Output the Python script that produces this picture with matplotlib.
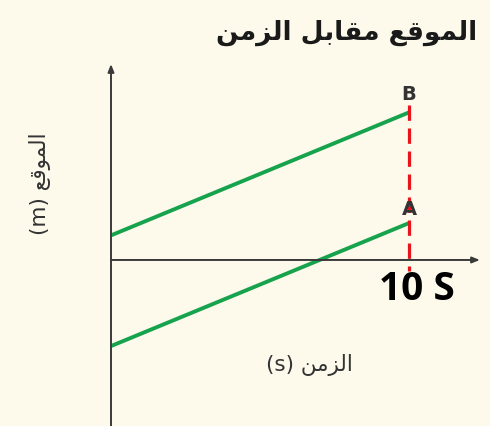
import matplotlib
matplotlib.use("Agg")
import matplotlib.pyplot as plt

# time (s) and position values of the two runners
time_s = [0, 10]
pos_a = [-7, 3]
pos_b = [2, 12]
t_mark = 10

title_ar = "الموقع مقابل الزمن"
ylabel_ar = "الموقع"
xlabel_ar = "الزمن"

# --- minimal Arabic shaping (matplotlib has no shaper / bidi) ---
FORMS = {  # isolated, final, initial, medial
    "ا": ("\uFE8D", "\uFE8E", None, None),
    "و": ("\uFEED", "\uFEEE", None, None),
    "ز": ("\uFEAF", "\uFEB0", None, None),
    "ل": ("\uFEDD", "\uFEDE", "\uFEDF", "\uFEE0"),
    "م": ("\uFEE1", "\uFEE2", "\uFEE3", "\uFEE4"),
    "ق": ("\uFED5", "\uFED6", "\uFED7", "\uFED8"),
    "ع": ("\uFEC9", "\uFECA", "\uFECB", "\uFECC"),
    "ب": ("\uFE8F", "\uFE90", "\uFE91", "\uFE92"),
    "ن": ("\uFEE5", "\uFEE6", "\uFEE7", "\uFEE8"),
}


def shape(text):
    out = []
    for i, ch in enumerate(text):
        if ch not in FORMS:
            out.append(ch)
            continue
        prev = text[i - 1] if i > 0 else ""
        nxt = text[i + 1] if i + 1 < len(text) else ""
        dual = FORMS[ch][2] is not None
        j_prev = prev in FORMS and FORMS[prev][2] is not None
        j_next = dual and nxt in FORMS
        if j_prev and j_next:
            out.append(FORMS[ch][3])
        elif j_prev:
            out.append(FORMS[ch][1])
        elif j_next:
            out.append(FORMS[ch][2])
        else:
            out.append(FORMS[ch][0])
    return "".join(out)[::-1]


bg = "#fdfaeb"
green = "#17a34e"
red = "#e8141c"
axis_c = "#3a3a3a"

fig = plt.figure(figsize=(4.9, 4.27), dpi=100, facecolor=bg)
ax = fig.add_axes([0, 0, 1, 1])
ax.set_facecolor(bg)
ax.set_xlim(-3.725, 12.718)
ax.set_ylim(-13.5, 21.22)
ax.axis("off")

# axes with arrows
ax.annotate("", xy=(0, 15.93), xytext=(0, -13.6),
            arrowprops=dict(arrowstyle="-|>,head_length=0.45,head_width=0.18",
                            color=axis_c, lw=1.4, shrinkA=0, shrinkB=0))
ax.annotate("", xy=(12.38, 0), xytext=(0, 0),
            arrowprops=dict(arrowstyle="-|>,head_length=0.45,head_width=0.18",
                            color=axis_c, lw=1.4, shrinkA=0, shrinkB=0))

ax.plot(time_s, pos_b, color=green, lw=2.8, solid_capstyle="butt")
ax.plot(time_s, pos_a, color=green, lw=2.8, solid_capstyle="butt")
ax.plot([t_mark, t_mark], [12.6, -0.9], color=red, lw=2.3,
        linestyle=(0, (4.8, 2.4)))

ax.text(t_mark, 13.5, "B", ha="center", va="center", fontsize=14,
        color="#333333", fontweight="bold")
ax.text(t_mark, 4.15, "A", ha="center", va="center", fontsize=14,
        color="#333333", fontweight="bold")
ax.text(t_mark + 0.25, -2.3, "10 S", ha="center", va="center",
        fontsize=28, fontweight="bold", family="Open Sans", color="black")

fig.text(347 / 490, 1 - 33 / 427, shape(title_ar), ha="center", va="center",
         fontsize=19, fontweight="bold", color="#1a1a1a",
         family=["DejaVu Sans"])
fig.text(40 / 490, 1 - 184 / 427, "(m) " + shape(ylabel_ar), rotation=90,
         ha="center", va="center", fontsize=15.5, color="#333333")
fig.text(309 / 490, 1 - 365 / 427, "(s) " + shape(xlabel_ar), ha="center",
         va="center", fontsize=15.5, color="#333333")

fig.savefig("out.png", dpi=100, facecolor=bg)
